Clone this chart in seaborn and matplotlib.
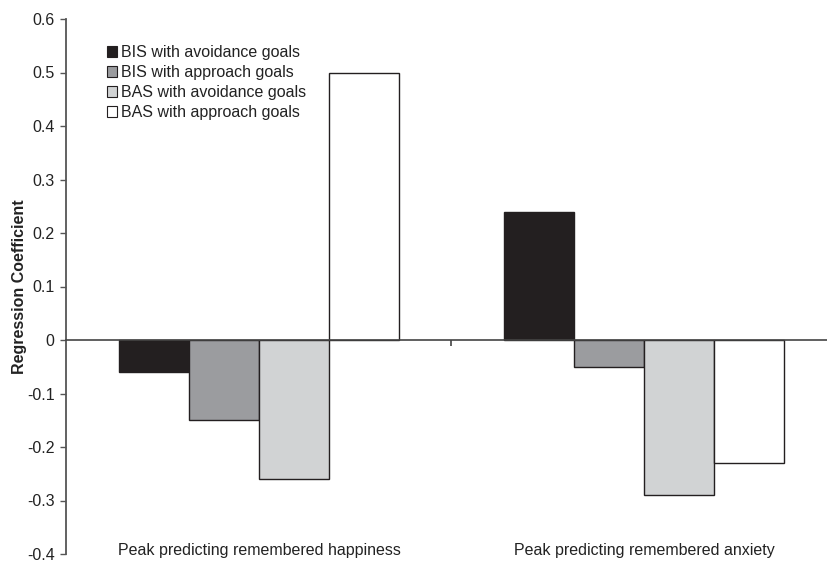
import matplotlib
matplotlib.use("Agg")
import matplotlib.pyplot as plt
from matplotlib.patches import Patch
from matplotlib.ticker import FixedLocator, FuncFormatter
import seaborn as sns
import pandas as pd

categories = ["Peak predicting remembered happiness", "Peak predicting remembered anxiety"]
series = ["BIS with avoidance goals", "BIS with approach goals",
          "BAS with avoidance goals", "BAS with approach goals"]
bis_avoid = [-0.06, 0.24]
bis_approach = [-0.15, -0.05]
bas_avoid = [-0.26, -0.29]
bas_approach = [0.50, -0.23]
colors = ["#231f20", "#9b9c9f", "#d1d3d4", "#ffffff"]
yticks = [-0.4, -0.3, -0.2, -0.1, 0, 0.1, 0.2, 0.3, 0.4, 0.5, 0.6]

rows = []
for s, vals in zip(series, [bis_avoid, bis_approach, bas_avoid, bas_approach]):
    for c, v in zip(categories, vals):
        rows.append({"category": c, "series": s, "value": v})
df = pd.DataFrame(rows)

sns.set_theme(style="white")
plt.rcParams["font.family"] = ["Liberation Sans", "DejaVu Sans"]

fig = plt.figure(figsize=(8.28, 5.61), dpi=100)
ax = fig.add_axes([66.5 / 828, 7 / 561, 770 / 828, 535 / 561])

sns.barplot(data=df, x="category", y="value", hue="series", order=categories,
            hue_order=series, palette=colors, width=0.727, edgecolor="#231f20",
            linewidth=1.0, saturation=1, ax=ax, legend=False)

ax.set_ylim(-0.4, 0.6)
ax.set_xlim(-0.5, 1.5)
ax.yaxis.set_major_locator(FixedLocator(yticks))
ax.yaxis.set_major_formatter(FuncFormatter(lambda v, p: ("%g" % round(v, 1)).replace("\u2212", "-")))

for side in ["top", "right"]:
    ax.spines[side].set_visible(False)
ax.spines["left"].set_color("#555555")
ax.spines["left"].set_linewidth(1.3)
ax.spines["bottom"].set_position(("data", 0))
ax.spines["bottom"].set_color("#444444")
ax.spines["bottom"].set_linewidth(1.2)

ax.tick_params(axis="y", which="major", left=True, length=4, width=1, color="#555555",
               labelsize=11.5, labelcolor="#222222", pad=4.5)
ax.tick_params(axis="x", which="major", bottom=False, length=0, pad=146.5,
               labelsize=11.5, labelcolor="#222222")
ax.xaxis.set_minor_locator(FixedLocator([0.5]))
ax.tick_params(axis="x", which="minor", bottom=True, length=4, width=1.2, color="#444444")

ax.set_xlabel("")
ax.set_ylabel("Regression Coefficient", fontsize=11.5, fontweight="bold", color="#222222", labelpad=0)

handles = [Patch(facecolor=c, edgecolor="#231f20", linewidth=0.8) for c in colors]
ax.legend(handles, series, loc="upper left", bbox_to_anchor=(40.5 / 770, 1 - 26 / 535),
          frameon=False, fontsize=11.5, handlelength=0.65, handleheight=0.65,
          handletextpad=0.2, labelspacing=0.31, borderaxespad=0, borderpad=0,
          labelcolor="#222222")

fig.savefig("out.png", dpi=100)
